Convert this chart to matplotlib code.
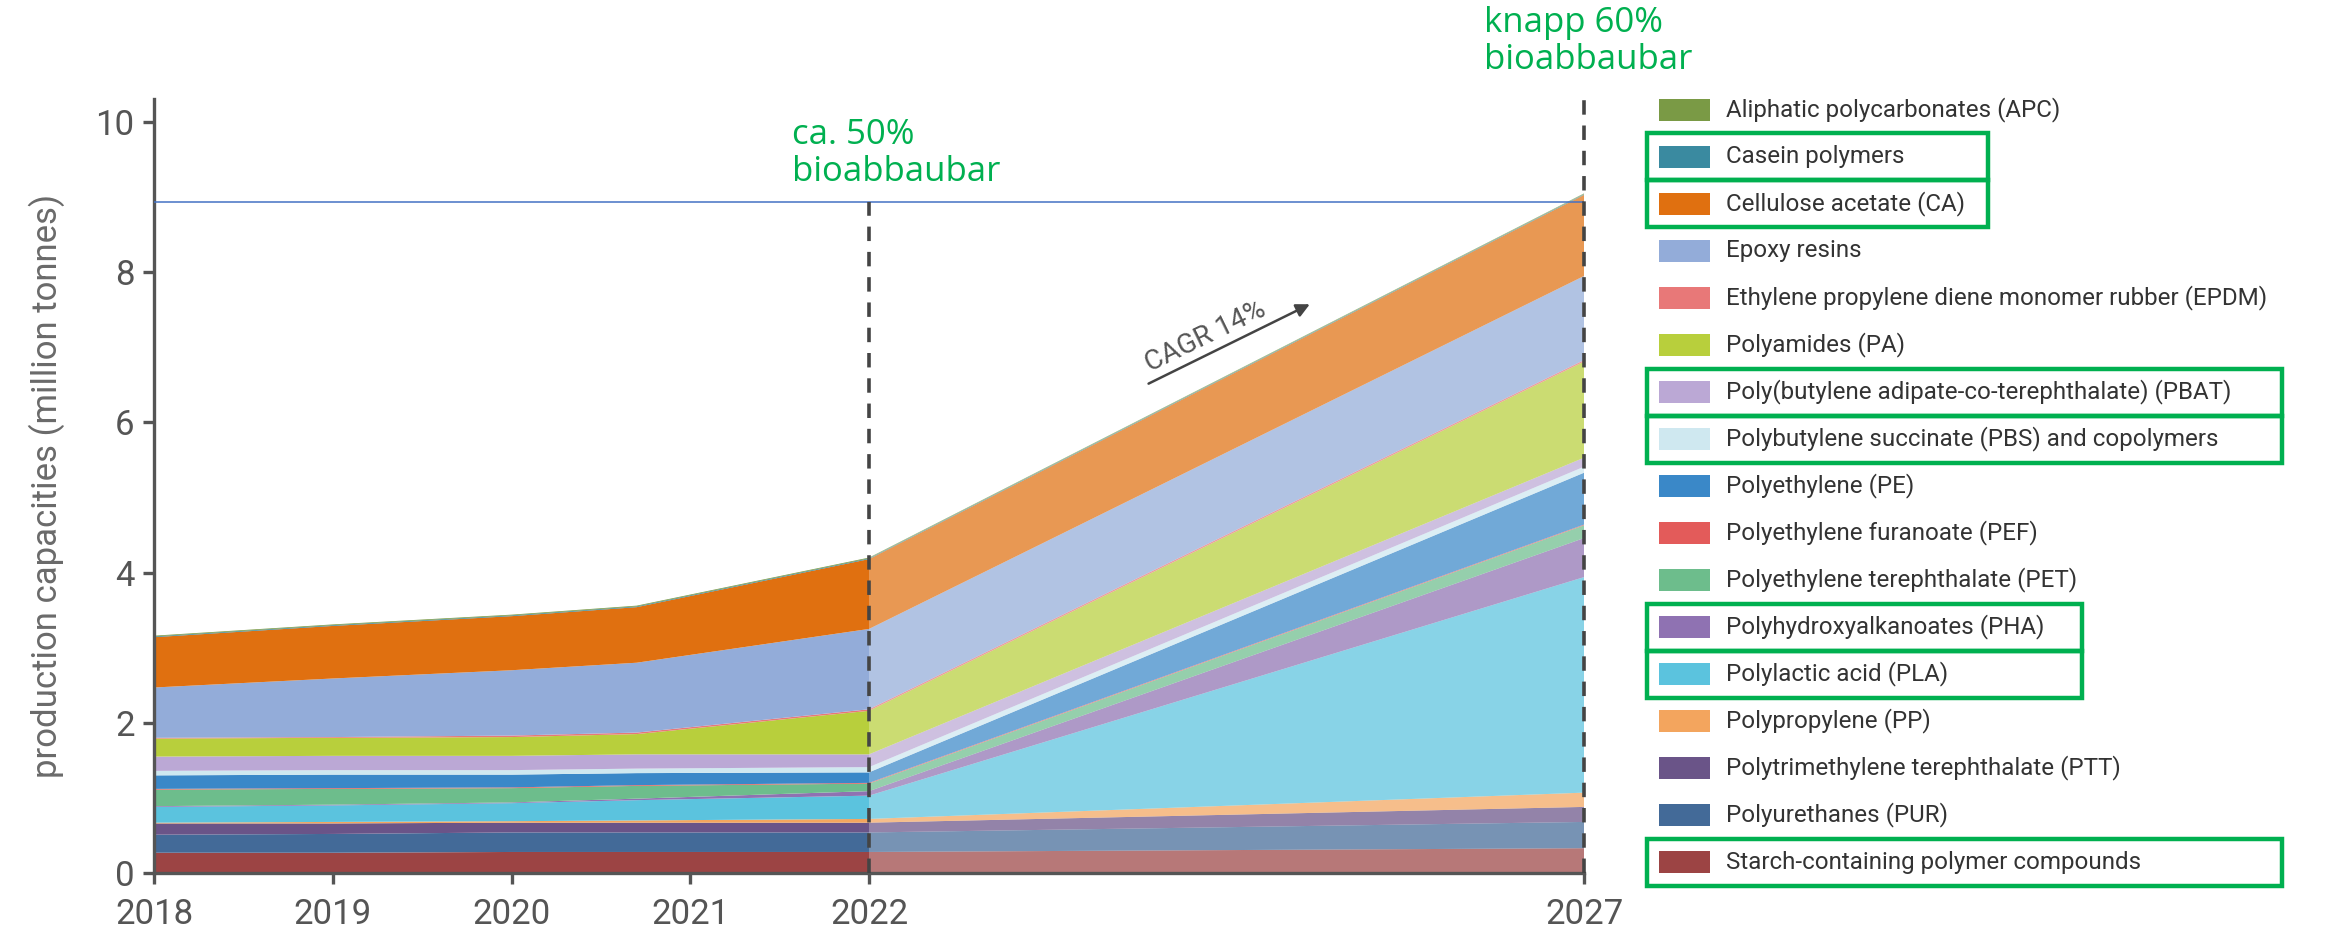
import numpy as np
import matplotlib.pyplot as plt
from matplotlib.patches import Rectangle

plt.rcParams['font.family'] = ['Roboto', 'DejaVu Sans']

# Materialien, von unten nach oben gestapelt
materials = [
    'Starch-containing polymer compounds',
    'Polyurethanes (PUR)',
    'Polytrimethylene terephthalate (PTT)',
    'Polypropylene (PP)',
    'Polylactic acid (PLA)',
    'Polyhydroxyalkanoates (PHA)',
    'Polyethylene terephthalate (PET)',
    'Polyethylene furanoate (PEF)',
    'Polyethylene (PE)',
    'Polybutylene succinate (PBS) and copolymers',
    'Poly(butylene adipate-co-terephthalate) (PBAT)',
    'Polyamides (PA)',
    'Ethylene propylene diene monomer rubber (EPDM)',
    'Epoxy resins',
    'Cellulose acetate (CA)',
    'Casein polymers',
    'Aliphatic polycarbonates (APC)',
]
colors = [
    '#9c4444', '#436a98', '#6a5488', '#f3a55e', '#5bc3de', '#8f72b2',
    '#6dbd8c', '#e35b5a', '#3a88c8', '#cfe8f0', '#bba8d5', '#b8cf3c',
    '#e87878', '#93acd9', '#e07010', '#3a8aa0', '#7a9a45',
]

# Jahre (2021-Knick liegt im Original etwas vor dem Tick)
years = [2018, 2019, 2020, 2020.7, 2022, 2027]
tick_years = [2018, 2019, 2020, 2021, 2022, 2027]

# Produktionskapazitaeten (Mio. t) je Jahr, Reihenfolge wie materials
cap_2018 = [.27, .24, .15, .01, .21, .01, .22, .01, .18, .06, .19, .24, .01, .67, .67, .01, .01]
cap_2019 = [.27, .25, .14, .02, .22, .01, .21, .01, .18, .06, .19, .24, .01, .78, .70, .01, .01]
cap_2020 = [.28, .26, .13, .02, .24, .01, .19, .01, .17, .06, .19, .25, .02, .87, .72, .01, .01]
cap_2021 = [.28, .26, .13, .03, .27, .02, .17, .01, .16, .06, .19, .27, .02, .93, .74, .01, .01]
cap_2022 = [.28, .26, .13, .05, .31, .06, .10, .01, .14, .07, .17, .58, .02, 1.07, .93, .01, .01]
cap_2027 = [.33, .35, .20, .19, 2.87, .52, .17, .01, .69, .08, .12, 1.28, .02, 1.12, 1.08, .01, .01]

ref_level = 8.93   # blaue Linie auf Hoehe 2027
highlight_groups = [  # gruen umrahmte Legendeneintraege
    ['Casein polymers', 'Cellulose acetate (CA)'],
    ['Poly(butylene adipate-co-terephthalate) (PBAT)', 'Polybutylene succinate (PBS) and copolymers'],
    ['Polyhydroxyalkanoates (PHA)', 'Polylactic acid (PLA)'],
    ['Starch-containing polymer compounds'],
]


def xpos(year):
    """2018-2022 linear, danach gestaucht bis 2027"""
    year = np.asarray(year, dtype=float)
    return np.where(year <= 2022, year - 2018, 4 + (year - 2022) * 0.8)


W, H = 2339, 938
fig = plt.figure(figsize=(W / 100, H / 100), dpi=100)
ax = fig.add_axes([154 / W, 1 - 873 / H, 1430 / W, 773.5 / H])

data = np.array([cap_2018, cap_2019, cap_2020, cap_2021, cap_2022, cap_2027]).T
x = xpos(years)
hist = x <= 4
fut = x >= 4
ax.stackplot(x[hist], data[:, hist], colors=colors, linewidth=0, antialiased=True)
ax.stackplot(x[fut], data[:, fut], colors=colors, linewidth=0, alpha=0.72)

gray = '#555555'
ax.hlines(ref_level, 0, xpos(2027), color='#4472c4', lw=1.1, zorder=3)
ax.vlines(xpos(2022), 0, ref_level, color='#444444', lw=2.6, linestyles=(0, (4, 3)), zorder=4)
ax.vlines(xpos(2027), 0, 10.3, color='#444444', lw=2.6, linestyles=(0, (4, 3)), zorder=4, clip_on=False)

ax.set_xlim(0, xpos(2027))
ax.set_ylim(0, 10.3)
ax.set_xticks(xpos(tick_years))
ax.set_xticklabels([str(y) for y in tick_years])
ax.set_yticks([0, 2, 4, 6, 8, 10])
for s in ['top', 'right']:
    ax.spines[s].set_visible(False)
for s in ['left', 'bottom']:
    ax.spines[s].set_color(gray)
    ax.spines[s].set_linewidth(2.4)
ax.tick_params(direction='out', length=8, width=2.4, color=gray, labelcolor=gray, labelsize=25)
ax.tick_params(axis='x', pad=10)
ax.tick_params(axis='y', pad=6)
ax.set_ylabel('production capacities (million tonnes)', fontsize=25, color='#6a6a6a', labelpad=22)

green = '#00b050'
ax.text(3.57, 10.05, 'ca. 50%\nbioabbaubar', color=green, fontsize=25, family=['Open Sans', 'DejaVu Sans'],
        ha='left', va='top', linespacing=1.12, clip_on=False)
ax.text(7.44, 11.55, 'knapp 60%\nbioabbaubar', color=green, fontsize=25, family=['Open Sans', 'DejaVu Sans'],
        ha='left', va='top', linespacing=1.12, clip_on=False)

ax.annotate('', xy=(6.48, 7.59), xytext=(5.55, 6.50),
            arrowprops=dict(arrowstyle='-|>', color='#444444', lw=1.8, mutation_scale=20))
ax.text(5.88, 7.14, 'CAGR 14%', rotation=26, rotation_mode='anchor', ha='center', va='center',
        fontsize=20, color=gray)

# Legende (oben = oberste Schicht)
lax = fig.add_axes([1640 / W, 1 - 885.5 / H, 699 / W, 799 / H])
lax.set_xlim(0, 699)
lax.set_ylim(16.5, -0.5)
lax.axis('off')
legend_idx = list(reversed(range(len(materials))))
row_of = {}
for row, i in enumerate(legend_idx):
    row_of[materials[i]] = row
    lax.add_patch(Rectangle((19, row - 0.24), 51, 0.48, color=colors[i], lw=0))
    lax.text(86, row, materials[i], va='center', ha='left', fontsize=17.4, color='#333333')

box_right = [348, 642, 442, 642]
for grp, right in zip(highlight_groups, box_right):
    for name in grp:
        r = row_of[name]
        lax.add_patch(Rectangle((7, r - 0.5), right - 7, 1.0, fill=False, edgecolor=green, lw=3.2,
                                clip_on=False))

fig.savefig('out.png', dpi=100)
